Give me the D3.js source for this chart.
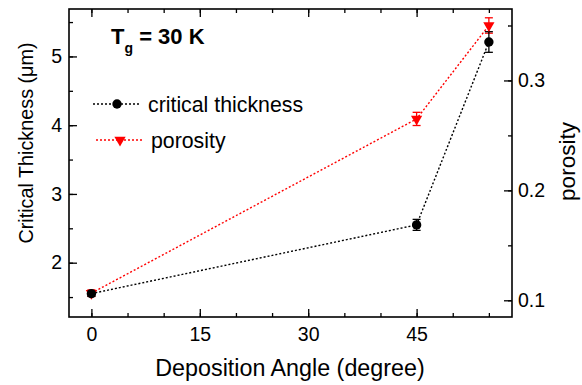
<!DOCTYPE html>
<html><head><meta charset="utf-8">
<script src="https://cdn.jsdelivr.net/npm/d3@7"></script>
<style>body{margin:0;background:#fff}svg{display:block}text{font-family:"Liberation Sans",Arial,sans-serif}</style>
</head><body>
<script>
const angles = [0, 45, 55];
const thickness = [1.55, 2.55, 5.21];
const thicknessErr = [0.04, 0.08, 0.15];
const porosity = [0.1065, 0.265, 0.35];
const porosityErr = [0.003, 0.006, 0.007];
const xTicks = [0, 15, 30, 45];
const yLeftTicks = [2, 3, 4, 5];
const yRightTicks = [0.1, 0.2, 0.3];

const W = 582, H = 385;
const m = {l: 69, r: 70, t: 9, b: 68};
const svg = d3.select("body").append("svg").attr("width", W).attr("height", H);
const x = d3.scaleLinear().domain([-3.1, 58.2]).range([m.l, W - m.r]);
const yL = d3.scaleLinear().domain([1.21, 5.69]).range([H - m.b, m.t]);
const yR = d3.scaleLinear().domain([0.0848, 0.365]).range([H - m.b, m.t]);
const g = svg.append("g");
const fs = 19.5;

function styleAxis(sel){
  sel.select(".domain").remove();
  sel.selectAll("line").attr("stroke", "#000").attr("stroke-width", 1.3);
  sel.selectAll("text").attr("font-size", fs).attr("fill", "#000").attr("font-family", '"Liberation Sans",Arial,sans-serif');
}
const minorX = d3.range(0, 56, 5);
const minorL = d3.range(1.5, 5.6, 0.5);
const minorR = d3.range(0.1, 0.36, 0.05);
// bottom
g.append("g").attr("transform", `translate(0,${H-m.b})`).call(d3.axisBottom(x).tickValues(minorX).tickSize(-4).tickFormat("")).call(styleAxis);
g.append("g").attr("transform", `translate(0,${H-m.b})`).call(d3.axisBottom(x).tickValues(xTicks).tickSize(-8).tickPadding(10.5).tickFormat(d3.format("d"))).call(styleAxis);
// top
g.append("g").attr("transform", `translate(0,${m.t})`).call(d3.axisTop(x).tickValues(minorX).tickSize(-4).tickFormat("")).call(styleAxis);
g.append("g").attr("transform", `translate(0,${m.t})`).call(d3.axisTop(x).tickValues(xTicks).tickSize(-8).tickFormat("")).call(styleAxis);
// left
g.append("g").attr("transform", `translate(${m.l},0)`).call(d3.axisLeft(yL).tickValues(minorL).tickSize(-4).tickFormat("")).call(styleAxis);
g.append("g").attr("transform", `translate(${m.l},0)`).call(d3.axisLeft(yL).tickValues(yLeftTicks).tickSize(-8).tickPadding(7).tickFormat(d3.format("d"))).call(styleAxis);
// right
g.append("g").attr("transform", `translate(${W-m.r},0)`).call(d3.axisRight(yR).tickValues(minorR).tickSize(-4).tickFormat("")).call(styleAxis);
g.append("g").attr("transform", `translate(${W-m.r},0)`).call(d3.axisRight(yR).tickValues(yRightTicks).tickSize(-8).tickPadding(6).tickFormat(d3.format(".1f"))).call(styleAxis);

// frame
g.append("rect").attr("x", m.l).attr("y", m.t).attr("width", W-m.r-m.l).attr("height", H-m.b-m.t)
  .attr("fill", "none").attr("stroke", "#000").attr("stroke-width", 1.6);

const red = "#ff0000";
// lines
const lineL = d3.line().x((d,i)=>x(angles[i])).y(d=>yL(d));
const lineR = d3.line().x((d,i)=>x(angles[i])).y(d=>yR(d));
g.append("path").attr("d", lineR(porosity)).attr("fill","none").attr("stroke", red).attr("stroke-width",1.4).attr("stroke-dasharray","2,2");
g.append("path").attr("d", lineL(thickness)).attr("fill","none").attr("stroke", "#000").attr("stroke-width",1.4).attr("stroke-dasharray","2,2");

// error bars
function errBars(vals, errs, ys, color){
  vals.forEach((v,i)=>{
    const cx = x(angles[i]);
    const y1 = ys(v - errs[i]), y2 = ys(v + errs[i]);
    g.append("line").attr("x1",cx).attr("x2",cx).attr("y1",y1).attr("y2",y2).attr("stroke",color).attr("stroke-width",1.3);
    [y1,y2].forEach(yy=>g.append("line").attr("x1",cx-4).attr("x2",cx+4).attr("y1",yy).attr("y2",yy).attr("stroke",color).attr("stroke-width",1.3));
  });
}
errBars(porosity, porosityErr, yR, red);
errBars(thickness, thicknessErr, yL, "#000");

const tri = d3.symbol().type(d3.symbolTriangle).size(55);
porosity.forEach((v,i)=>{
  g.append("path").attr("d", tri()).attr("transform", `translate(${x(angles[i])},${yR(v)}) rotate(180)`).attr("fill", red);
});
thickness.forEach((v,i)=>{
  g.append("circle").attr("cx", x(angles[i])).attr("cy", yL(v)).attr("r", 4.7).attr("fill", "#000");
});

// legend
const leg = [{label:"critical thickness", color:"#000", sym:"circle", y:104, x0:93},
             {label:"porosity", color:red, sym:"tri", y:140, x0:96}];
leg.forEach(d=>{
  g.append("line").attr("x1", d.x0).attr("x2", d.x0+48).attr("y1", d.y).attr("y2", d.y)
    .attr("stroke", d.color).attr("stroke-width",1.4).attr("stroke-dasharray","2,2");
  if(d.sym==="circle") g.append("circle").attr("cx", d.x0+24).attr("cy", d.y).attr("r",4.7).attr("fill",d.color);
  else g.append("path").attr("d", tri()).attr("transform", `translate(${d.x0+24},${d.y}) rotate(180)`).attr("fill", d.color);
  g.append("text").attr("x", d.x0+55).attr("y", d.y+7.5).attr("font-size", 21.3).attr("fill","#000").text(d.label);
});

// title
const t = g.append("text").attr("x", 111).attr("y", 43.5).attr("font-size", 22).attr("font-weight","bold").attr("fill","#000");
t.append("tspan").text("T");
t.append("tspan").attr("font-size", 14).attr("dy", 9).text("g");
t.append("tspan").attr("dy", -9).text(" = 30 K");

// axis titles
g.append("text").attr("x", 290).attr("y", 376).attr("text-anchor","middle").attr("font-size", 23.3).attr("fill","#000").text("Deposition Angle (degree)");
g.append("text").attr("transform", `translate(33,143) rotate(-90)`).attr("text-anchor","middle").attr("font-size", 19.8).attr("fill","#000").text("Critical Thickness (\u03bcm)");
g.append("text").attr("transform", `translate(575,161.5) rotate(-90)`).attr("text-anchor","middle").attr("font-size", 22.5).attr("fill","#000").text("porosity");
</script>
</body></html>
